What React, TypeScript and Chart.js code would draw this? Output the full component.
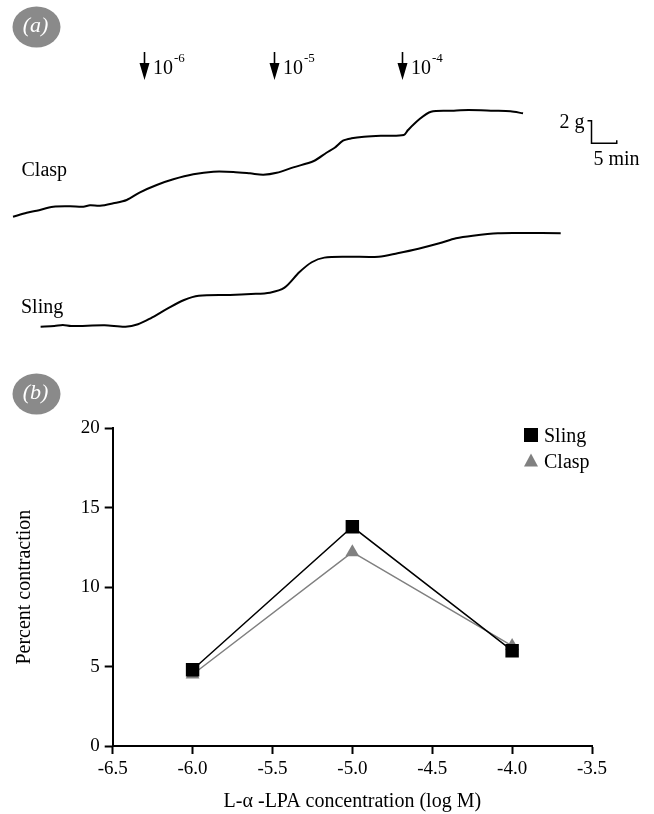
import React, { useEffect, useRef } from "react";
import { Chart, registerables } from "chart.js";

Chart.register(...registerables);

const FONT = '"Liberation Serif", "Times New Roman", Times, serif';

// ---------- Panel (a): tension traces (time in min, tension in g above baseline) ----------
const claspTime = [0, 2.66, 4.59, 7.81, 11.05, 13.62, 14.92, 16.86, 19.44, 22.03, 24.61, 27.85, 31.07, 34.94, 38.82, 42.69, 45.93, 48.51, 51.1, 54.32, 58.29, 60.74, 62.34, 63.95, 65.6, 68.02, 71.28, 75.74, 76.55, 78.57, 81.01, 85.08, 88.29, 93.16, 96.41, 98.84];
const claspTension = [0, 0.35, 0.53, 0.88, 0.92, 0.88, 1.01, 0.97, 1.19, 1.48, 2.16, 2.81, 3.31, 3.75, 3.98, 3.96, 3.84, 3.72, 3.89, 4.37, 4.93, 5.66, 6.11, 6.73, 6.94, 7.08, 7.17, 7.23, 7.67, 8.56, 9.29, 9.38, 9.44, 9.38, 9.33, 9.15];

const slingTime = [5.35, 8.02, 9.65, 11.26, 17.75, 21.8, 24.22, 26.67, 29.92, 33.16, 35.99, 42.05, 46.12, 49.79, 52.62, 55.47, 57.89, 60.33, 64.79, 70.87, 74.52, 78.57, 82.62, 85.85, 89.11, 93.97, 98.84, 106.14];
const slingTension = [0, 0.06, 0.15, 0.06, 0.12, 0, 0.21, 0.74, 1.59, 2.36, 2.74, 2.81, 2.89, 3.01, 3.45, 4.81, 5.7, 6.11, 6.19, 6.19, 6.5, 6.9, 7.38, 7.82, 8.05, 8.27, 8.29, 8.27];

const arrowTimes = [25.4, 50.5, 75.3];
const arrowExponents = ["-6", "-5", "-4"];

const scaleBarTime = 112; // min
const scaleBarTension = 6.5; // g (clasp axis)
const scaleBarMinutes = 5;
const scaleBarGrams = 2;

// ---------- Panel (b): dose response ----------
const concentration = [-6, -5, -4];
const slingPercent = [4.8, 13.8, 6.0];
const claspPercent = [4.5, 12.2, 6.3];
const xTickValues = [-6.5, -6.0, -5.5, -5.0, -4.5, -4.0, -3.5];
const yTickValues = [0, 5, 10, 15, 20];

const GRAY = "#808080";

function drawBadge(ctx: CanvasRenderingContext2D, cx: number, cy: number, text: string) {
  ctx.save();
  ctx.fillStyle = "#8a8a8a";
  ctx.beginPath();
  ctx.ellipse(cx, cy, 24, 20.5, 0, 0, Math.PI * 2);
  ctx.fill();
  ctx.fillStyle = "#ffffff";
  ctx.font = `italic 22px ${FONT}`;
  ctx.textAlign = "center";
  ctx.textBaseline = "middle";
  ctx.fillText(text, cx - 1, cy - 1);
  ctx.restore();
}

const panelAPlugin = {
  id: "panelA",
  afterDatasetsDraw(chart: any) {
    const ctx: CanvasRenderingContext2D = chart.ctx;
    const xs = chart.scales.x;
    const yc = chart.scales.yClasp;
    ctx.save();
    drawBadge(ctx, 36.5, 27, "(a)");

    ctx.fillStyle = "#000";
    ctx.strokeStyle = "#000";
    arrowTimes.forEach((t, i) => {
      const px = Math.round(xs.getPixelForValue(t)) + 0.5;
      ctx.lineWidth = 1.6;
      ctx.beginPath();
      ctx.moveTo(px, 52);
      ctx.lineTo(px, 66);
      ctx.stroke();
      ctx.beginPath();
      ctx.moveTo(px - 5, 63);
      ctx.lineTo(px + 5, 63);
      ctx.lineTo(px, 80);
      ctx.closePath();
      ctx.fill();
      ctx.font = `20px ${FONT}`;
      ctx.textAlign = "left";
      ctx.textBaseline = "alphabetic";
      ctx.fillText("10", px + 8.5, 73.5);
      const w = ctx.measureText("10").width;
      ctx.font = `13px ${FONT}`;
      ctx.fillText(arrowExponents[i], px + 8.5 + w + 1, 62);
    });

    // trace labels
    ctx.font = `20px ${FONT}`;
    ctx.textAlign = "left";
    ctx.textBaseline = "alphabetic";
    ctx.fillText("Clasp", 21.5, 176);
    ctx.fillText("Sling", 21, 313);

    // scale bar
    const bx = Math.round(xs.getPixelForValue(scaleBarTime)) + 0.5;
    const by = yc.getPixelForValue(scaleBarTension);
    const byTop = yc.getPixelForValue(scaleBarTension + scaleBarGrams);
    const bxRight = xs.getPixelForValue(scaleBarTime + scaleBarMinutes);
    ctx.lineWidth = 1.5;
    ctx.beginPath();
    ctx.moveTo(bx - 4, byTop);
    ctx.lineTo(bx, byTop);
    ctx.lineTo(bx, by);
    ctx.lineTo(bxRight, by);
    ctx.lineTo(bxRight, by - 3);
    ctx.stroke();
    ctx.textAlign = "right";
    ctx.fillText("2 g", bx - 7, 128);
    ctx.textAlign = "left";
    ctx.fillText("5 min", bx + 2, 165);
    ctx.restore();
  },
};

const panelBPlugin = {
  id: "panelB",
  afterDatasetsDraw(chart: any) {
    const ctx: CanvasRenderingContext2D = chart.ctx;
    ctx.save();
    drawBadge(ctx, 36.5, 34, "(b)");
    // legend
    const items = chart.data.datasets;
    const mx = 531;
    const rows = [75, 101];
    items.forEach((ds: any, i: number) => {
      const cy = rows[i];
      ctx.fillStyle = ds.pointBackgroundColor;
      ctx.beginPath();
      if (ds.pointStyle === "rect") {
        ctx.rect(mx - 7, cy - 7, 14, 14);
      } else {
        ctx.moveTo(mx, cy - 7.5);
        ctx.lineTo(mx + 7, cy + 5.5);
        ctx.lineTo(mx - 7, cy + 5.5);
        ctx.closePath();
      }
      ctx.fill();
      ctx.fillStyle = "#000";
      ctx.font = `20px ${FONT}`;
      ctx.textAlign = "left";
      ctx.textBaseline = "alphabetic";
      ctx.fillText(ds.label, 544, cy + 7.3);
    });
    ctx.restore();
  },
};

export default function App() {
  const topRef = useRef<HTMLCanvasElement>(null);
  const botRef = useRef<HTMLCanvasElement>(null);

  useEffect(() => {
    const top = new Chart(topRef.current as HTMLCanvasElement, {
      type: "line",
      data: {
        datasets: [
          {
            label: "Clasp",
            data: claspTime.map((t, i) => ({ x: t, y: claspTension[i] })),
            yAxisID: "yClasp",
            borderColor: "#000",
            borderWidth: 2,
            pointRadius: 0,
            tension: 0.3,
            fill: false,
          },
          {
            label: "Sling",
            data: slingTime.map((t, i) => ({ x: t, y: slingTension[i] })),
            yAxisID: "ySling",
            borderColor: "#000",
            borderWidth: 2,
            pointRadius: 0,
            tension: 0.3,
            fill: false,
          },
        ],
      },
      options: {
        animation: false,
        responsive: false,
        events: [],
        layout: { padding: 0 },
        plugins: { legend: { display: false }, tooltip: { enabled: false } },
        scales: {
          x: { type: "linear", display: false, min: -2.52, max: 124.22 },
          yClasp: { type: "linear", display: false, min: -12.68, max: 19.18 },
          ySling: { type: "linear", display: false, min: -2.95, max: 28.91 },
        },
      },
      plugins: [panelAPlugin],
    } as any);

    const tickFont = { family: FONT, size: 19 };
    const titleFont = { family: FONT, size: 20 };

    const bottom = new Chart(botRef.current as HTMLCanvasElement, {
      type: "line",
      data: {
        datasets: [
          {
            label: "Sling",
            data: concentration.map((c, i) => ({ x: c, y: slingPercent[i] })),
            borderColor: "#000",
            borderWidth: 1.5,
            pointStyle: "rect",
            pointRadius: 9.5,
            pointBackgroundColor: "#000",
            pointBorderColor: "#000",
            pointBorderWidth: 0,
            tension: 0,
          },
          {
            label: "Clasp",
            data: concentration.map((c, i) => ({ x: c, y: claspPercent[i] })),
            borderColor: GRAY,
            borderWidth: 1.5,
            pointStyle: "triangle",
            pointRadius: 8,
            pointBackgroundColor: GRAY,
            pointBorderColor: GRAY,
            pointBorderWidth: 0,
            tension: 0,
          },
        ],
      },
      options: {
        animation: false,
        responsive: false,
        events: [],
        layout: { padding: { top: 68.3, right: 62, bottom: 0, left: 0 } },
        plugins: { legend: { display: false }, tooltip: { enabled: false } },
        scales: {
          x: {
            type: "linear",
            min: -6.5,
            max: -3.5,
            afterBuildTicks: (s: any) => {
              s.ticks = xTickValues.map((v) => ({ value: v }));
            },
            afterFit: (s: any) => {
              s.height = 68;
            },
            ticks: {
              color: "#000",
              font: tickFont,
              padding: 4,
              maxRotation: 0,
              autoSkip: false,
              callback: (v: any) => Number(v).toFixed(1),
            },
            grid: { drawOnChartArea: false, drawTicks: true, tickLength: 8, tickWidth: 2, tickColor: "#000" },
            border: { display: true, color: "#000", width: 2 },
            title: { display: true, text: "L-α -LPA concentration (log M)", color: "#000", font: titleFont, padding: 0 },
          },
          y: {
            type: "linear",
            min: 0,
            max: 20,
            afterBuildTicks: (s: any) => {
              s.ticks = yTickValues.map((v) => ({ value: v }));
            },
            afterFit: (s: any) => {
              s.width = 112.7;
            },
            ticks: { color: "#000", font: tickFont, padding: 5 },
            grid: { drawOnChartArea: false, drawTicks: true, tickLength: 8, tickWidth: 2, tickColor: "#000" },
            border: { display: true, color: "#000", width: 2 },
            title: { display: true, text: "Percent contraction", color: "#000", font: titleFont, padding: { top: 13, bottom: 0 } },
          },
        },
      },
      plugins: [panelBPlugin],
    } as any);

    return () => {
      top.destroy();
      bottom.destroy();
    };
  }, []);

  return (
    <div style={{ position: "absolute", left: 0, top: 0, width: 654, height: 814, background: "#fff" }}>
      <canvas ref={topRef} width={654} height={360} style={{ display: "block", width: 654, height: 360 }} />
      <canvas ref={botRef} width={654} height={454} style={{ display: "block", width: 654, height: 454 }} />
    </div>
  );
}
